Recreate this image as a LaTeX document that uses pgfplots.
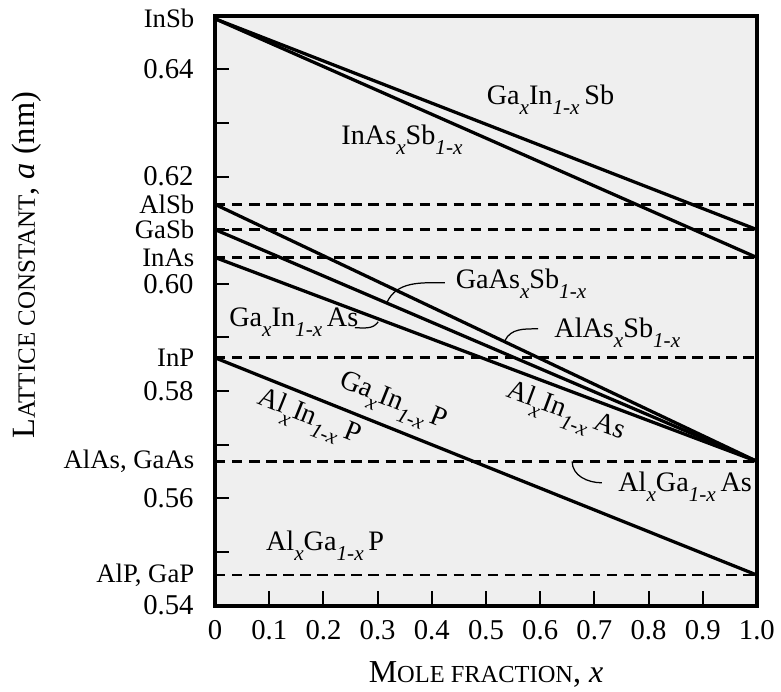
\documentclass[border=0pt]{standalone}
\usepackage{fontspec}
\setmainfont{Liberation Serif}
\usepackage{pgfplots}
\pgfplotsset{compat=1.18}
\definecolor{bg}{RGB}{239,239,239}
\newcommand{\sub}[1]{\raisebox{-0.36em}{\fontsize{8.5}{8.5}\selectfont\itshape #1}}
\newcommand{\lab}{\fontsize{11.3}{13}\selectfont}
\newcommand{\mat}{\fontsize{10.7}{12}\selectfont}
\newcommand{\tkl}{\fontsize{11.5}{13}\selectfont}
\begin{document}
\begin{tikzpicture}
\begin{axis}[
  scale only axis, width=7.63cm, height=8.31cm,
  xmin=0, xmax=1, ymin=0.54, ymax=0.65,
  axis background/.style={fill=bg},
  axis line style={line width=1.6pt},
  tick align=inside, xtick pos=bottom, ytick pos=left,
  major tick length=0.2cm, minor tick length=0.2cm,
  every tick/.style={line width=0.8pt, black},
  xtick={0,0.1,0.2,0.3,0.4,0.5,0.6,0.7,0.8,0.9,1},
  xticklabels={0,0.1,0.2,0.3,0.4,0.5,0.6,0.7,0.8,0.9,1.0},
  ytick={0.54,0.56,0.58,0.60,0.62,0.64},
  yticklabels={0.54,0.56,0.58,0.60,0.62,0.64},
  minor ytick={0.55,0.57,0.59,0.61,0.63},
  ticklabel style={font=\tkl},
  yticklabel style={xshift=-0.18cm},
  xticklabel style={yshift=-0.08cm},
  xlabel={{\fontsize{12.8}{14}\selectfont M}{\fontsize{9.8}{12}\selectfont OLE FRACTION}{\fontsize{12.8}{14}\selectfont, \textit{x}}},
  ylabel={{\fontsize{13}{14}\selectfont L}{\fontsize{10}{12}\selectfont ATTICE CONSTANT}{\fontsize{13}{14}\selectfont, \textit{a} (nm)}},
  xlabel style={at={(axis description cs:0.5,-0.117)}, anchor=center},
  ylabel style={at={(axis description cs:-0.347,0.577)}, anchor=center},
  clip=false,
]
% dashed binary lattice constants
\addplot[black, line width=1.1pt, dash pattern=on 1.45mm off 0.95mm] coordinates {(0,0.6148) (1,0.6148)};
\addplot[black, line width=1.1pt, dash pattern=on 1.45mm off 0.95mm] coordinates {(0,0.6101) (1,0.6101)};
\addplot[black, line width=1.1pt, dash pattern=on 1.45mm off 0.95mm] coordinates {(0,0.6049) (1,0.6049)};
\addplot[black, line width=1.1pt, dash pattern=on 1.45mm off 0.95mm] coordinates {(0,0.5862) (1,0.5862)};
\addplot[black, line width=1.1pt, dash pattern=on 1.45mm off 0.95mm] coordinates {(0,0.5669) (1,0.5669)};
\addplot[black, line width=1.1pt, dash pattern=on 1.45mm off 0.95mm] coordinates {(0,0.5457) (1,0.5457)};
% alloys
\addplot[black, line width=1.3pt] coordinates {(0,0.6494) (1,0.6101)}; % GaInSb
\addplot[black, line width=1.3pt] coordinates {(0,0.6494) (1,0.6049)}; % InAsSb
\addplot[black, line width=1.3pt] coordinates {(0,0.6148) (1,0.5669)}; % AlAsSb
\addplot[black, line width=1.3pt] coordinates {(0,0.6101) (1,0.5669)}; % GaAsSb
\addplot[black, line width=1.3pt] coordinates {(0,0.6049) (1,0.5669)}; % GaInAs, AlInAs
\addplot[black, line width=1.3pt] coordinates {(0,0.5862) (1,0.5457)}; % GaInP, AlInP
% material labels
\node[anchor=east, font=\mat, xshift=-0.17cm] at (axis cs:0,0.6494) {InSb};
\node[anchor=east, font=\mat, xshift=-0.17cm] at (axis cs:0,0.6148) {AlSb};
\node[anchor=east, font=\mat, xshift=-0.17cm] at (axis cs:0,0.6101) {GaSb};
\node[anchor=east, font=\mat, xshift=-0.17cm] at (axis cs:0,0.6049) {InAs};
\node[anchor=east, font=\mat, xshift=-0.17cm] at (axis cs:0,0.5862) {InP};
\node[anchor=east, font=\mat, xshift=-0.17cm] at (axis cs:0,0.5669) {AlAs, GaAs};
\node[anchor=east, font=\mat, xshift=-0.17cm] at (axis cs:0,0.5457) {AlP, GaP};
% alloy labels
\node[font=\lab] at (axis cs:0.619,0.6343) {Ga\sub{x}In\sub{1-x}\,Sb};
\node[font=\lab] at (axis cs:0.345,0.6269) {InAs\sub{x}Sb\sub{1-x}};
\node[font=\lab, anchor=west] at (axis cs:0.428,0.6000) {GaAs\sub{x}Sb\sub{1-x}};
\node[font=\lab, anchor=west] at (axis cs:0.010,0.5928) {Ga\sub{x}In\sub{1-x}\,As};
\node[font=\lab, anchor=west] at (axis cs:0.610,0.5909) {AlAs\sub{x}Sb\sub{1-x}};
\node[font=\lab, anchor=west] at (axis cs:0.728,0.5622) {Al\sub{x}Ga\sub{1-x}\,As};
\node[font=\lab] at (axis cs:0.203,0.5512) {Al\sub{x}Ga\sub{1-x}\,P};
\node[font=\lab, rotate=-21.9] at (axis cs:0.327,0.5777) {Ga\sub{x}In\sub{1-x}\,P};
\node[font=\lab, rotate=-21.9] at (axis cs:0.172,0.5748) {Al\sub{x}In\sub{1-x}\,P};
\node[font=\lab, rotate=-20.5] at (axis cs:0.646,0.5758) {Al\sub{x}In\sub{1-x}\,As};
% leaders
\draw[line width=0.5pt] (axis cs:0.424,0.6002) to[out=180,in=65] (axis cs:0.317,0.5965);
\draw[line width=0.5pt] (axis cs:0.258,0.5918) to[out=0,in=235] (axis cs:0.301,0.5929);
\draw[line width=0.5pt] (axis cs:0.596,0.5916) to[out=180,in=65] (axis cs:0.535,0.5894);
\draw[line width=0.5pt] (axis cs:0.714,0.5629) to[out=180,in=270] (axis cs:0.659,0.5669);
\end{axis}
\pgfresetboundingbox
\path[use as bounding box] (current axis.south west) ++(-3.03cm,-1.21cm) rectangle ++(11.0cm,9.74cm);
\end{tikzpicture}
\end{document}
